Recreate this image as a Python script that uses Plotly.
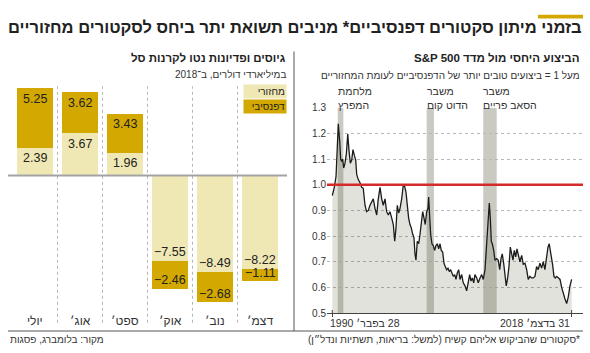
import plotly.graph_objects as go

W, H = 590, 353

# ---------------- data ----------------
months = ["יולי", "אוג׳", "ספט׳", "אוק׳", "נוב׳", "דצמ׳"]
cyclical = [2.39, 3.67, 1.96, -7.55, -8.49, -8.22]
defensive = [5.25, 3.62, 3.43, -2.46, -2.68, -1.11]

years = [1990.16, 1990.40, 1990.61, 1990.73, 1990.88, 1991.05, 1991.17, 1991.29, 1991.41, 1991.53,
         1991.69, 1991.85, 1992.02, 1992.17, 1992.33, 1992.50, 1992.65, 1992.81, 1992.98, 1993.10,
         1993.29, 1993.50, 1993.70, 1993.89, 1994.10, 1994.30, 1994.50, 1994.70, 1994.91, 1995.10,
         1995.30, 1995.51, 1995.70, 1995.91, 1996.11, 1996.30, 1996.51, 1996.71, 1996.91, 1997.11,
         1997.32, 1997.51, 1997.68, 1997.83, 1997.99, 1998.16, 1998.32, 1998.52, 1998.71, 1998.88,
         1999.04, 1999.20, 1999.36, 1999.52, 1999.68, 1999.85, 2000.00, 2000.12, 2000.24, 2000.40,
         2000.57, 2000.73, 2000.88, 2001.05, 2001.21, 2001.36, 2001.53, 2001.69, 2001.77, 2001.89,
         2002.01, 2002.17, 2002.33, 2002.50, 2002.65, 2002.81, 2002.98, 2003.14, 2003.29, 2003.46,
         2003.62, 2003.77, 2003.94, 2004.10, 2004.26, 2004.42, 2004.58, 2004.74, 2004.91, 2005.06,
         2005.22, 2005.39, 2005.55, 2005.75, 2005.94, 2006.15, 2006.35, 2006.55, 2006.71, 2006.87,
         2007.03, 2007.20, 2007.35, 2007.56, 2007.75, 2007.96, 2008.16, 2008.35, 2008.56, 2008.76,
         2008.96, 2009.08, 2009.20, 2009.32, 2009.44, 2009.61, 2009.76, 2009.97, 2010.16, 2010.33,
         2010.49, 2010.64, 2010.81, 2010.97, 2011.12, 2011.29, 2011.45, 2011.61, 2011.78, 2011.93,
         2012.09, 2012.26, 2012.41, 2012.57, 2012.77, 2012.98, 2013.17, 2013.38, 2013.58, 2013.77,
         2013.98, 2014.18, 2014.38, 2014.58, 2014.78, 2014.97, 2015.18, 2015.38, 2015.58, 2015.78,
         2015.99, 2016.15, 2016.30, 2016.47, 2016.59, 2016.71, 2016.87, 2017.03, 2017.20, 2017.39,
         2017.60, 2017.80, 2018.00, 2018.20, 2018.40, 2018.59, 2018.80, 2019.00]
ratio = [0.958, 0.990, 1.033, 1.130, 1.237, 1.170, 1.100, 1.090, 1.100, 1.065,
         1.084, 1.120, 1.197, 1.134, 1.084, 1.096, 1.137, 1.115, 1.096, 1.040,
         1.020, 1.008, 0.990, 0.986, 0.920, 0.895, 0.900, 0.920, 0.933, 0.945,
         0.908, 0.882, 0.945, 0.990, 0.945, 0.920, 0.945, 0.895, 0.882, 0.895,
         0.870, 0.845, 0.780, 0.830, 0.920, 0.890, 0.908, 0.945, 0.998, 0.993,
         0.970, 0.908, 0.870, 0.845, 0.832, 0.807, 0.794, 0.731, 0.706, 0.780,
         0.770, 0.807, 0.857, 0.895, 0.870, 0.845, 0.895, 0.908, 0.952, 0.857,
         0.807, 0.770, 0.763, 0.744, 0.763, 0.770, 0.750, 0.770, 0.744, 0.738,
         0.694, 0.681, 0.669, 0.675, 0.662, 0.669, 0.656, 0.643, 0.650, 0.631,
         0.656, 0.669, 0.631, 0.650, 0.618, 0.606, 0.587, 0.631, 0.650, 0.625,
         0.637, 0.618, 0.650, 0.637, 0.618, 0.637, 0.650, 0.631, 0.669, 0.770,
         0.870, 0.929, 0.870, 0.780, 0.770, 0.744, 0.706, 0.712, 0.706, 0.669,
         0.712, 0.731, 0.694, 0.643, 0.606, 0.637, 0.681, 0.757, 0.731, 0.706,
         0.744, 0.719, 0.750, 0.731, 0.700, 0.725, 0.690, 0.694, 0.669, 0.631,
         0.643, 0.637, 0.637, 0.643, 0.681, 0.669, 0.694, 0.675, 0.700, 0.669,
         0.731, 0.757, 0.770, 0.738, 0.719, 0.688, 0.643, 0.637, 0.643, 0.637,
         0.631, 0.600, 0.574, 0.555, 0.537, 0.562, 0.606, 0.631]

band_start = [1990.81, 2001.53, 2008.35]
band_end = [1991.49, 2002.41, 2009.97]
band_labels = ["מלחמת<br>המפרץ", "משבר<br>הדוט קום", "משבר<br>הסאב פריים"]

y2_ticks = [0.5, 0.6, 0.7, 0.8, 0.9, 1.0, 1.1, 1.2, 1.3]
date_ticks = [1990.16, 2019.00]
date_labels = ["28 בפבר׳ 1990", "31 בדצמ׳ 2018"]

# ---------------- style ----------------
FONT = "Liberation Sans Narrow, Liberation Sans, DejaVu Sans Condensed, sans-serif"
LIGHT = "#EFE8B4"
GOLD = "#D3A800"
TXT = "#222222"


def px(x):
    return x / W


def py(y):
    return 1 - y / H


def rtl(s):
    return "\u202b" + s + "\u202c"


def fmt(v):
    return f"{v:.2f}".replace("-", "\u2212")


fig = go.Figure()

for vals, col in ((cyclical, LIGHT), (defensive, GOLD)):
    fig.add_trace(go.Bar(
        x=list(range(len(months))), y=vals, width=0.78, marker=dict(color=col, line=dict(width=0)),
        xaxis="x", yaxis="y", showlegend=False, hoverinfo="skip"))

fig.add_trace(go.Scatter(
    x=years, y=ratio, mode="lines", line=dict(color="#1c1c1c", width=1.3),
    fill="tozeroy", fillcolor="rgba(60,60,30,0.15)", xaxis="x2", yaxis="y2",
    showlegend=False, hoverinfo="skip"))

shapes = []
# recession bands
for a, b in zip(band_start, band_end):
    shapes.append(dict(type="rect", xref="x2", yref="y2", x0=a, x1=b, y0=0.5, y1=1.3,
                       fillcolor="#CACAC2", line=dict(width=0), layer="below"))
# red 1.0 line
shapes.append(dict(type="line", xref="x2 domain", yref="y2", x0=0, x1=1, y0=1.0, y1=1.0,
                   line=dict(color="#D42A2A", width=2.5)))
# small upward tick marks crossing the date axis
for t in date_ticks:
    shapes.append(dict(type="line", xref="x2", yref="y2", x0=t, x1=t, y0=0.5, y1=0.512,
                       line=dict(color="#444", width=1)))
# left chart separators
for i in range(len(months) - 1):
    shapes.append(dict(type="line", xref="x", yref="paper", x0=i + 0.5, x1=i + 0.5,
                       y0=py(328), y1=py(84), line=dict(color="#B5B5B5", width=1, dash="dot"),
                       layer="below"))
# zero line
shapes.append(dict(type="line", xref="paper", yref="y", x0=px(8), x1=px(287), y0=0, y1=0,
                   line=dict(color="#A3A3A3", width=2)))
# panel dividers
shapes.append(dict(type="line", xref="paper", yref="paper", x0=px(294), x1=px(294),
                   y0=py(336.5), y1=py(48), line=dict(color="#555555", width=1)))
shapes.append(dict(type="line", xref="paper", yref="paper", x0=px(8), x1=px(583),
                   y0=py(336.5), y1=py(336.5), line=dict(color="#555555", width=1)))
# accent bar
shapes.append(dict(type="rect", xref="paper", yref="paper", x0=px(538), x1=px(583),
                   y0=py(14), y1=py(10), fillcolor=GOLD, line=dict(width=0)))

ann = []


def text(x, y, s, size, xanchor="right", bold=False, color=TXT, **kw):
    d = dict(xref="paper", yref="paper", x=x, y=y, text=("<b>%s</b>" % s) if bold else s,
             showarrow=False, xanchor=xanchor, yanchor="middle",
             font=dict(family=FONT, size=size, color=color))
    d.update(kw)
    ann.append(d)


text(px(584), py(23), rtl("בזמני מיתון סקטורים דפנסיביים* מניבים תשואת יתר ביחס לסקטורים מחזוריים"), 16.5, bold=True)
text(px(288), py(55), rtl("גיוסים ופדיונות נטו לקרנות סל"), 11.5, bold=True)
text(px(288), py(72), rtl("במיליארדי דולרים, ב־2018"), 10, color="#333")
text(px(582), py(55), rtl("הביצוע היחסי מול מדד S&P 500"), 11.5, bold=True)
text(px(582), py(73), rtl("מעל 1 = ביצועים טובים יותר של הדפנסיביים לעומת המחזוריים"), 10, color="#333")
text(px(582), py(345), rtl("*סקטורים שהביקוש אליהם קשיח (למשל: בריאות, תשתיות ונדל״ן)"), 10, color="#333")
text(px(8), py(345), rtl("מקור: בלומברג, פסגות"), 10, xanchor="left", color="#333")

# legend boxes
text(px(287), py(89), rtl("מחזורי"), 10, bgcolor=LIGHT, width=40, height=11, align="right", borderpad=1)
text(px(287), py(105), rtl("דפנסיבי"), 10, bgcolor=GOLD, width=40, height=11, align="right", borderpad=1)

# bar value labels, placed at the far end of each stacked segment
for i in range(len(months)):
    c, d = cyclical[i], defensive[i]
    for val, edge in ((c, c), (d, c + d)):
        pos = edge >= 0
        ann.append(dict(xref="x", yref="y", x=i, y=edge, text=fmt(val), showarrow=False,
                        xanchor="center", yanchor="top" if pos else "bottom",
                        yshift=-1 if pos else 0,
                        font=dict(family=FONT, size=12.5, color=TXT)))

# month labels
for i, m in enumerate(months):
    ann.append(dict(xref="x", yref="paper", x=i, y=py(326), text=rtl(m), showarrow=False,
                    xanchor="center", yanchor="middle", font=dict(family=FONT, size=12, color="#333")))

# band labels
for a, lab in zip(band_start, band_labels):
    ann.append(dict(xref="x2", yref="paper", x=a, y=py(96), text=rtl(lab), showarrow=False,
                    xanchor="left", yanchor="middle", align="left", xshift=-2,
                    font=dict(family=FONT, size=10.5, color="#333")))

# date labels
ann.append(dict(xref="x2", yref="paper", x=date_ticks[0], y=py(328), text=rtl(date_labels[0]),
                showarrow=False, xanchor="left", yanchor="middle", xshift=-4,
                font=dict(family=FONT, size=10.5, color="#333")))
ann.append(dict(xref="x2", yref="paper", x=date_ticks[1], y=py(328), text=rtl(date_labels[1]),
                showarrow=False, xanchor="right", yanchor="middle", xshift=0,
                font=dict(family=FONT, size=10.5, color="#333")))

fig.update_layout(
    width=W, height=H, margin=dict(l=0, r=0, t=0, b=0),
    paper_bgcolor="white", plot_bgcolor="rgba(0,0,0,0)",
    barmode="relative", bargap=0,
    font=dict(family=FONT, color=TXT),
    shapes=shapes, annotations=ann,
    xaxis=dict(domain=[px(8), px(287)], range=[-0.6, 5.6], visible=False, fixedrange=True),
    yaxis=dict(domain=[py(335), py(84)], range=[-(335 - 176) / 11.75, (176 - 84) / 11.75],
               visible=False, fixedrange=True),
    xaxis2=dict(domain=[px(327), px(583)], range=[1989.52, 2020.37], anchor="y2",
                showgrid=False, zeroline=False, showline=True, linecolor="#444", linewidth=1,
                tickvals=date_ticks, ticks="outside", ticklen=3, tickcolor="#444",
                showticklabels=False),
    yaxis2=dict(domain=[py(318), py(106)], range=[0.5, 1.3], anchor="x2",
                tickvals=y2_ticks, tickformat=".1f", showgrid=True, gridcolor="#B8B8B8",
                griddash="dot", gridwidth=1, zeroline=False, showline=False, ticks="",
                tickfont=dict(family=FONT, size=10, color="#333")),
)

fig.write_html("out.html")
